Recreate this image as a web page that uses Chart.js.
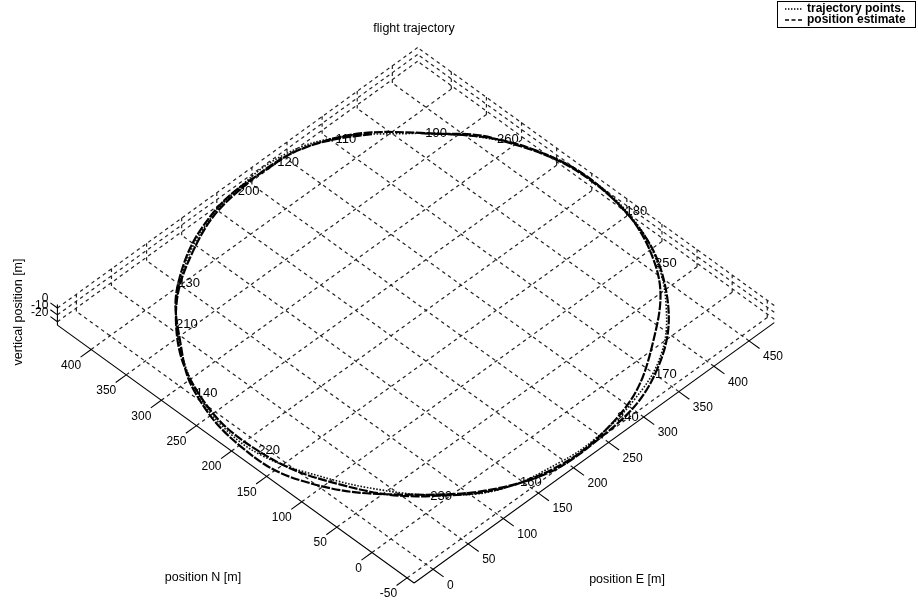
<!DOCTYPE html>
<html>
<head>
<meta charset="utf-8">
<script src="https://cdn.jsdelivr.net/npm/chart.js@4.4.1/dist/chart.umd.min.js"></script>
<style>
  html, body { margin: 0; padding: 0; background: #fff; }
  #wrap { width: 918px; height: 604px; position: relative; }
</style>
</head>
<body>
<div id="wrap"><canvas id="c"></canvas></div>
<script>
// ---- flight data -------------------------------------------------------
// time stamps [s] of the estimated positions
const estTime  = [105, 110, 115, 120, 125, 130, 135, 140, 145, 150, 155, 160, 165, 170, 175, 180, 185,
                  190, 195, 200, 205, 210, 215, 220, 225, 230, 235, 240, 245, 250, 255, 260, 265];
// estimated position north / east [m]
const estNorth = [402, 423, 437, 442, 438, 393, 329, 272, 189, 112, 27, -47, -60, -36, 38, 145, 265,
                  365, 431, 441, 414, 354, 267, 171, 80, 4, -52, -52, -6, 73, 192, 308, 369];
const estEast  = [375, 344, 312, 280, 186, 90, 30, -6, -26, -17, 40, 137, 233, 340, 430, 479, 477,
                  414, 330, 223, 132, 48, -5, -18, 7, 60, 153, 270, 366, 449, 485, 459, 410];
// planned trajectory points north / east [m]
const refNorth = [369, 422, 444, 444, 430, 403, 367, 322, 274, 222, 164, 102, 42, -2, -39, -55, -57,
                  -47, -22, 23, 80, 139, 203, 265, 322, 369];
const refEast  = [410, 349, 294, 229, 165, 108, 61, 24, -3, -19, -20, 1, 33, 68, 116, 185, 234,
                  298, 362, 415, 456, 479, 486, 477, 449, 410];
const flightAltitude = -10;

// time stamps written next to the track
const timeLabels = [110, 120, 130, 140, 160, 170, 180, 190, 200, 210, 220, 230, 240, 250, 260];

// axes
const northTicks = [-50, 0, 50, 100, 150, 200, 250, 300, 350, 400];
const eastTicks  = [0, 50, 100, 150, 200, 250, 300, 350, 400, 450];
const altTicks   = [-20, -10, 0];
const northRange = [-60, 448];
const eastRange  = [-27, 486];
const altRange   = [-25, 5];

// ---- orthographic 3-D view ---------------------------------------------
const VIEW_AZ = 45, VIEW_EL = 46.3;
const VIEW_X = [-393.7, 530.8];   // projected window, horizontal [m]
const VIEW_Y = [-82.9, 525.4];    // projected window, vertical [m]

function project(n, e, z) {
  const a = VIEW_AZ * Math.PI / 180, el = VIEW_EL * Math.PI / 180;
  return {
    x: e * Math.cos(a) - n * Math.sin(a),
    y: (e * Math.sin(a) + n * Math.cos(a)) * Math.sin(el) + z * Math.cos(el)
  };
}
const GAP = { x: null, y: null };
function segments(pairs) {
  const out = [];
  pairs.forEach(([p, q]) => { out.push(project(...p), project(...q), GAP); });
  return out;
}

const [nMin, nMax] = northRange, [eMin, eMax] = eastRange, [zMin, zMax] = altRange;

// dashed grid: floor plus the two back walls
const gridPairs = [];
eastTicks.forEach(e => gridPairs.push([[nMin, e, zMin], [nMax, e, zMin]]));
northTicks.forEach(n => gridPairs.push([[n, eMin, zMin], [n, eMax, zMin]]));
altTicks.forEach(z => {
  gridPairs.push([[nMax, eMin, z], [nMax, eMax, z]]);
  gridPairs.push([[nMin, eMax, z], [nMax, eMax, z]]);
});
eastTicks.forEach(e => gridPairs.push([[nMax, e, zMin], [nMax, e, zMax]]));
northTicks.forEach(n => gridPairs.push([[n, eMax, zMin], [n, eMax, zMax]]));

// solid axes with tick marks
const axisPairs = [
  [[nMin, eMin, zMin], [nMin, eMax, zMin]],
  [[nMin, eMin, zMin], [nMax, eMin, zMin]],
  [[nMax, eMin, zMin], [nMax, eMin, zMax]]
];
eastTicks.forEach(e => axisPairs.push([[nMin, e, zMin], [nMin - 15, e, zMin]]));
northTicks.forEach(n => axisPairs.push([[n, eMin, zMin], [n, eMin - 15, zMin]]));
altTicks.forEach(z => axisPairs.push([[nMax, eMin, z], [nMax + 10, eMin, z]]));

const estPoints = estNorth.map((n, i) => project(n, estEast[i], flightAltitude));
const refPoints = refNorth.map((n, i) => project(n, refEast[i], flightAltitude));

const FONT = "'Liberation Sans', Arial, Helvetica, sans-serif";

const textPlugin = {
  id: 'plotText',
  afterDatasetsDraw(chart) {
    const ctx = chart.ctx, sx = chart.scales.x, sy = chart.scales.y;
    const px = p => ({ x: sx.getPixelForValue(p.x), y: sy.getPixelForValue(p.y) });
    ctx.save();
    ctx.fillStyle = '#000';
    ctx.textBaseline = 'middle';

    // tick labels
    ctx.font = '12px ' + FONT;
    ctx.textAlign = 'left';
    eastTicks.forEach(e => {
      const a = px(project(nMin, e, zMin));
      ctx.fillText(String(e), a.x + 14, a.y + 16);
    });
    ctx.textAlign = 'right';
    northTicks.forEach(n => {
      const a = px(project(n, eMin, zMin));
      ctx.fillText(String(n), a.x - 10, a.y + 16);
    });
    altTicks.forEach(z => {
      const a = px(project(nMax, eMin, z));
      ctx.fillText(String(z), a.x - 9, a.y - 9);
    });

    // title and axis labels
    ctx.font = '12.5px ' + FONT;
    ctx.textAlign = 'center';
    ctx.fillText('flight trajectory', 414, 29);
    ctx.fillText('position N [m]', 203, 578);
    ctx.fillText('position E [m]', 627, 580);
    ctx.save();
    ctx.translate(19, 312);
    ctx.rotate(-Math.PI / 2);
    ctx.fillText('vertical position [m]', 0, 0);
    ctx.restore();

    // time stamps along the estimated track
    const meta = chart.getDatasetMeta(0);
    ctx.font = '13px ' + FONT;
    ctx.textAlign = 'left';
    timeLabels.forEach(t => {
      const el = meta.data[estTime.indexOf(t)];
      if (el) ctx.fillText(String(t), el.x, el.y);
    });

    // legend
    ctx.fillStyle = '#fff';
    ctx.fillRect(777.5, 1.5, 138, 26);
    ctx.strokeStyle = '#000';
    ctx.lineWidth = 1;
    ctx.setLineDash([]);
    ctx.strokeRect(777.5, 1.5, 138, 26);
    ctx.fillStyle = '#000';
    ctx.font = 'bold 12px ' + FONT;
    ctx.fillText('trajectory points.', 807, 9);
    ctx.fillText('position estimate', 807, 20);
    ctx.lineWidth = 1.4;
    ctx.setLineDash([1.4, 1.6]);
    ctx.beginPath(); ctx.moveTo(785, 9); ctx.lineTo(802, 9); ctx.stroke();
    ctx.setLineDash([4, 2.5]);
    ctx.beginPath(); ctx.moveTo(785, 20); ctx.lineTo(802, 20); ctx.stroke();
    ctx.restore();
  }
};

new Chart(document.getElementById('c'), {
  type: 'scatter',
  data: {
    datasets: [
      { label: 'position estimate', data: estPoints, showLine: true, tension: 0.4,
        borderColor: '#000', borderWidth: 2.2, borderDash: [9, 1.5], pointRadius: 0 },
      { label: 'trajectory points.', data: refPoints, showLine: true, tension: 0.4,
        borderColor: '#111', borderWidth: 1.6, borderDash: [1.6, 1.6], pointRadius: 0 },
      { label: 'axes', data: segments(axisPairs), showLine: true, tension: 0, spanGaps: false,
        borderColor: '#000', borderWidth: 1.1, pointRadius: 0 },
      { label: 'grid', data: segments(gridPairs), showLine: true, tension: 0, spanGaps: false,
        borderColor: '#222', borderWidth: 1.2, borderDash: [3.5, 3.5], pointRadius: 0 }
    ]
  },
  options: {
    responsive: true,
    maintainAspectRatio: false,
    animation: false,
    events: [],
    layout: { padding: 0 },
    plugins: { legend: { display: false }, tooltip: { enabled: false }, title: { display: false } },
    scales: {
      x: { type: 'linear', display: false, min: VIEW_X[0], max: VIEW_X[1] },
      y: { type: 'linear', display: false, min: VIEW_Y[0], max: VIEW_Y[1] }
    }
  },
  plugins: [textPlugin]
});
</script>
</body>
</html>
